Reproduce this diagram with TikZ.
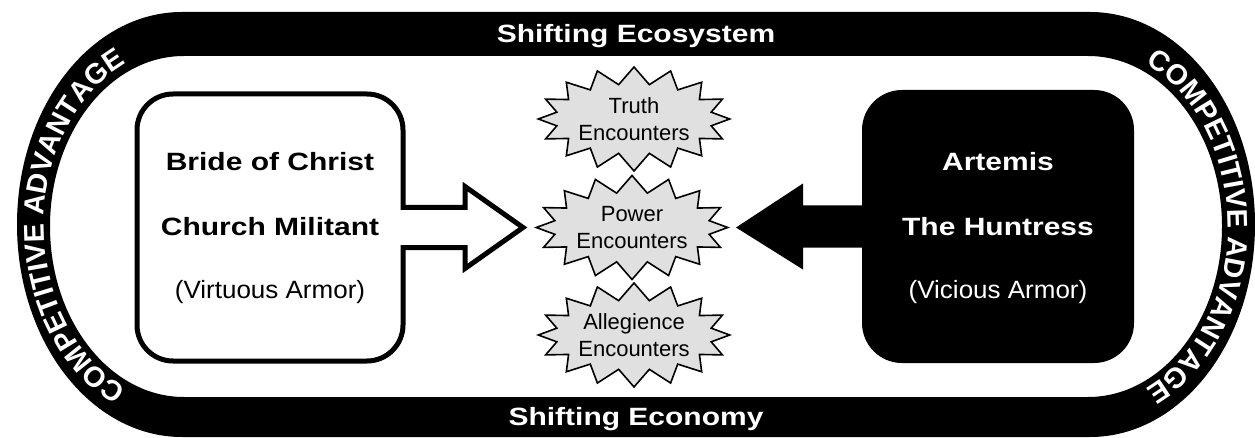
\documentclass[tikz,border=0pt]{standalone}
\usepackage{fontspec}
\setmainfont{Liberation Sans}
\newfontfamily\widefont{Liberation Sans}[FakeStretch=1.2]
\newfontfamily\subfont{Liberation Sans}[FakeStretch=1.04]
\usetikzlibrary{shapes.symbols,decorations.text,calc}
\newcommand\ringfmt{\fontsize{28.5}{30}\selectfont\bfseries}
\tikzset{
  bandtext/.style={font=\widefont\bfseries\fontsize{25}{30}\selectfont, text=white, inner sep=0pt},
  titletext/.style={font=\widefont\bfseries\fontsize{25}{30}\selectfont, inner sep=0pt},
  subtext/.style={font=\subfont\fontsize{25}{30}\selectfont, inner sep=0pt},
  burst/.style={starburst, starburst points=16, starburst point height=17pt, random starburst=0,
    minimum width=186pt, minimum height=104pt, inner sep=0pt, draw, line width=1.6pt,
    fill=black!12, align=center, font=\fontsize{22}{27}\selectfont},
  ringtext/.style={decorate, decoration={text along path, text={|\ringfmt|#1}, text align=center, text color=white}},
  openarrow/.style={line width=5pt, fill=white, miter limit=10},
}
\begin{document}
\begin{tikzpicture}[x=1pt,y=1pt]
\useasboundingbox (0,0) rectangle (1255,437);
% ring
\fill[even odd rule]
  (182,425) -- (1090,425) arc (90:-90:165 and 212.5) -- (182,0) arc (270:90:165 and 212.5) -- cycle
  (184,381) -- (1088,381) arc (90:-90:134 and 170.5) -- (184,40) arc (270:90:134 and 170.5) -- cycle;
\node[bandtext, anchor=base] (eco) at (636,394) {Shifting Ecosystem};
\node[bandtext, anchor=base] (econ) at (636,12) {Shifting Economy};
\path[ringtext={COMPETITIVE ADVANTAGE}] (184,211) ++(255:140 and 178) arc (255:105:140 and 178);
\path[ringtext={COMPETITIVE ADVANTAGE}] (1088,211) ++(75:140 and 178) arc (75:-75:140 and 178);
% boxes
\node[draw, line width=5pt, rounded corners=36pt, minimum width=266pt, minimum height=267pt, outer sep=0pt] (lbox) at (270,209.5) {};
\node[fill=black, rounded corners=40pt, minimum width=272pt, minimum height=273pt, outer sep=0pt] (rbox) at (998,210.5) {};
\node[titletext, anchor=base] (l1) at (270,266) {Bride of Christ};
\node[titletext, anchor=base] (l2) at (270,202) {Church Militant};
\node[subtext, anchor=base] (l3) at (270,139) {(Virtuous Armor)};
\node[titletext, text=white, anchor=base] (r1) at (998,266) {Artemis};
\node[titletext, text=white, anchor=base] (r2) at (998,202) {The Huntress};
\node[subtext, text=white, anchor=base] (r3) at (998,139) {(Vicious Armor)};
% bursts
\node[burst] (truth) at (634,318) {Truth\\Encounters};
\node[burst] (power) at (632,209.5) {Power\\Encounters};
\node[burst] (alleg) at (634,102) {Allegience\\Encounters};
% arrows
\fill[white] ($(lbox.east)+(-3,-17.5)$) rectangle ($(lbox.east)+(3,17.5)$);
\draw[openarrow] ($(lbox.east)+(0,20)$) -- ($(lbox.east)+(62,20)$) -- ($(lbox.east)+(62,41)$)
  -- ($(power.west)+(-11,0)$) -- ($(lbox.east)+(62,-41)$) -- ($(lbox.east)+(62,-20)$) -- ($(lbox.east)+(0,-20)$);
\fill ($(rbox.west)+(1,21)$) -- ($(rbox.west)+(-59,21)$) -- ($(rbox.west)+(-59,43)$)
  -- ($(power.east)+(6,0)$) -- ($(rbox.west)+(-59,-43)$) -- ($(rbox.west)+(-59,-21)$) -- ($(rbox.west)+(1,-21)$) -- cycle;
\end{tikzpicture}
\end{document}
